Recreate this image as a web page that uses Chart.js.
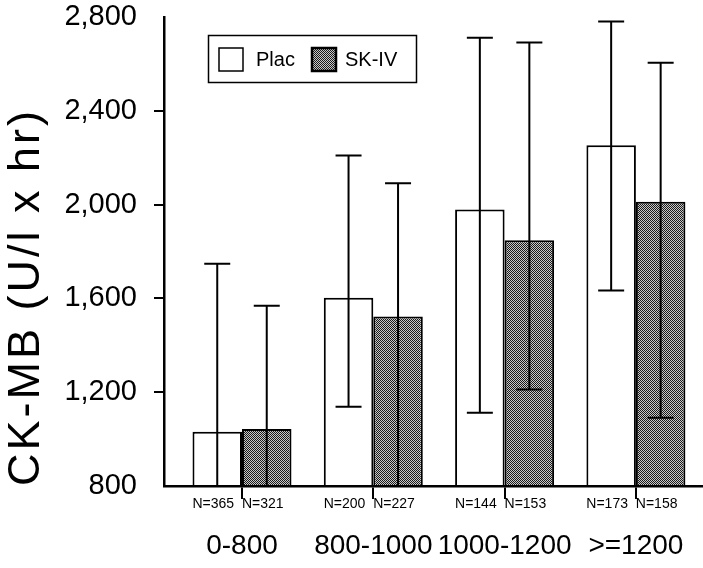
<!DOCTYPE html>
<html>
<head>
<meta charset="utf-8">
<script src="https://cdn.jsdelivr.net/npm/chart.js@4.4.0/dist/chart.umd.min.js"></script>
<style>
  html, body { margin: 0; padding: 0; background: #fff; }
  #wrap { width: 703px; height: 568px; }
</style>
</head>
<body>
<div id="wrap"><canvas id="c" width="703" height="568"></canvas></div>
<script>
// ---- data ----
const categories = ['0-800', '800-1000', '1000-1200', '>=1200'];
const seriesNames = ['Plac', 'SK-IV'];
const placMean = [1031, 1603, 1979, 2253];
const placHigh = [1748, 2209, 2712, 2781];
const placLow  = [314, 1138, 1112, 1634];
const skMean   = [1043, 1523, 1848, 2012];
const skHigh   = [1569, 2091, 2691, 2605];
const skLow    = [517, 780, 1211, 1091];
const placN    = [365, 200, 144, 173];
const skN      = [321, 227, 153, 158];
const yTicks   = [800, 1200, 1600, 2000, 2400, 2800];

const FONT = "'Liberation Sans', Arial, Helvetica, sans-serif";

// dotted grey fill
function makePattern() {
  const p = document.createElement('canvas');
  p.width = 2; p.height = 2;
  const g = p.getContext('2d');
  g.fillStyle = '#c8c8c8'; g.fillRect(0, 0, 2, 2);
  g.fillStyle = '#1a1a1a'; g.fillRect(0, 0, 1, 1); g.fillRect(1, 1, 1, 1);
  return g.createPattern(p, 'repeat');
}
const ctx0 = document.getElementById('c').getContext('2d');
const skFill = makePattern();

const toPts = arr => arr.map((v, i) => ({ x: i, y: v }));

const errorBars = {
  id: 'errorBars',
  afterDatasetsDraw(chart) {
    const ctx = chart.ctx, ys = chart.scales.y, a = chart.chartArea;
    const lows = [placLow, skLow], highs = [placHigh, skHigh];
    ctx.save();
    ctx.beginPath(); ctx.rect(a.left, a.top - 20, a.right - a.left, a.bottom - a.top + 20); ctx.clip();
    ctx.strokeStyle = '#000'; ctx.lineWidth = 2;
    chart.data.datasets.forEach((ds, di) => {
      chart.getDatasetMeta(di).data.forEach((el, j) => {
        const x = el.x;
        const yh = ys.getPixelForValue(highs[di][j]);
        const yl = ys.getPixelForValue(lows[di][j]);
        ctx.beginPath();
        ctx.moveTo(x, yl); ctx.lineTo(x, yh);
        ctx.moveTo(x - 13, yh); ctx.lineTo(x + 13, yh);
        ctx.moveTo(x - 13, yl); ctx.lineTo(x + 13, yl);
        ctx.stroke();
      });
    });
    ctx.restore();
  }
};

const nLabels = {
  id: 'nLabels',
  afterDraw(chart) {
    const ctx = chart.ctx, a = chart.chartArea;
    const ns = [placN, skN];
    ctx.save();
    ctx.fillStyle = '#000';
    ctx.font = '14px ' + FONT;
    ctx.textAlign = 'center'; ctx.textBaseline = 'middle';
    chart.data.datasets.forEach((ds, di) => {
      chart.getDatasetMeta(di).data.forEach((el, j) => {
        ctx.fillText('N=' + ns[di][j], el.x - 4, a.bottom + 18);
      });
    });
    ctx.restore();
  }
};

const boxLegend = {
  id: 'boxLegend',
  afterDraw(chart) {
    const ctx = chart.ctx;
    const ds = chart.data.datasets;
    ctx.save();
    ctx.strokeStyle = '#000'; ctx.lineWidth = 1.5;
    ctx.strokeRect(208.5, 35.5, 208, 47);
    const items = [{ x: 219, tx: 256 }, { x: 312, tx: 345 }];
    ctx.font = '20px ' + FONT; ctx.textBaseline = 'middle'; ctx.textAlign = 'left';
    items.forEach((it, i) => {
      ctx.fillStyle = ds[i].backgroundColor;
      ctx.fillRect(it.x, 48, 24, 23);
      ctx.lineWidth = i === 0 ? 1.5 : 2.5;
      ctx.strokeRect(it.x, 48, 24, 23);
      ctx.fillStyle = '#000';
      ctx.fillText(ds[i].label, it.tx, 60);
    });
    ctx.restore();
  }
};

new Chart(ctx0, {
  type: 'bar',
  data: {
    datasets: [
      { label: seriesNames[0], data: toPts(placMean), backgroundColor: '#ffffff', borderColor: '#000', borderWidth: 2, base: 800 },
      { label: seriesNames[1], data: toPts(skMean), backgroundColor: skFill, borderColor: '#000', borderWidth: 2, base: 800 }
    ]
  },
  options: {
    responsive: false,
    animation: false,
    events: [],
    categoryPercentage: 0.754,
    barPercentage: 1.0,
    layout: { padding: { top: 17, left: 0, right: 0, bottom: 0 } },
    plugins: { legend: { display: false }, tooltip: { enabled: false } },
    scales: {
      x: {
        type: 'linear',
        min: -0.594, max: 3.511,
        offset: false,
        afterBuildTicks(s) { s.ticks = categories.map((c, i) => ({ value: i })); },
        afterFit(s) { s.height = 82; s.paddingLeft = 0; s.paddingRight = 0; },
        ticks: {
          callback: v => categories[v],
          color: '#000', font: { family: FONT, size: 28 }, padding: 30,
          maxRotation: 0, autoSkip: false
        },
        grid: { display: true, drawOnChartArea: false, offset: false, tickLength: 13, color: '#000', lineWidth: 2 },
        border: { display: true, color: '#000', width: 2.5 }
      },
      y: {
        type: 'linear',
        min: 800, max: 2800,
        afterBuildTicks(s) { s.ticks = yTicks.map(v => ({ value: v })); },
        afterFit(s) {
          s.width = 164; s.paddingTop = 0; s.paddingBottom = 0;
          if (!s._spaced) {
            s._spaced = true;
            const orig = s.drawTitle;
            s.drawTitle = function () {
              this.ctx.save();
              this.ctx.letterSpacing = '3px';
              orig.apply(this, arguments);
              this.ctx.restore();
            };
          }
        },
        ticks: {
          callback: v => v.toLocaleString('en-US'),
          color: '#000', font: { family: FONT, size: 29 }, padding: 17
        },
        grid: {
          display: true, drawOnChartArea: false, tickLength: 10, lineWidth: 2,
          color: c => (c.tick && (c.tick.value === yTicks[0] || c.tick.value === yTicks[yTicks.length - 1])) ? 'rgba(0,0,0,0)' : '#000'
        },
        border: { display: true, color: '#000', width: 2.5 },
        title: {
          display: true, text: 'CK-MB (U/l x hr)', align: 'start',
          color: '#000', font: { family: FONT, size: 45 }, padding: { top: 0, bottom: 0 }
        }
      }
    }
  },
  plugins: [errorBars, nLabels, boxLegend]
});
</script>
</body>
</html>
